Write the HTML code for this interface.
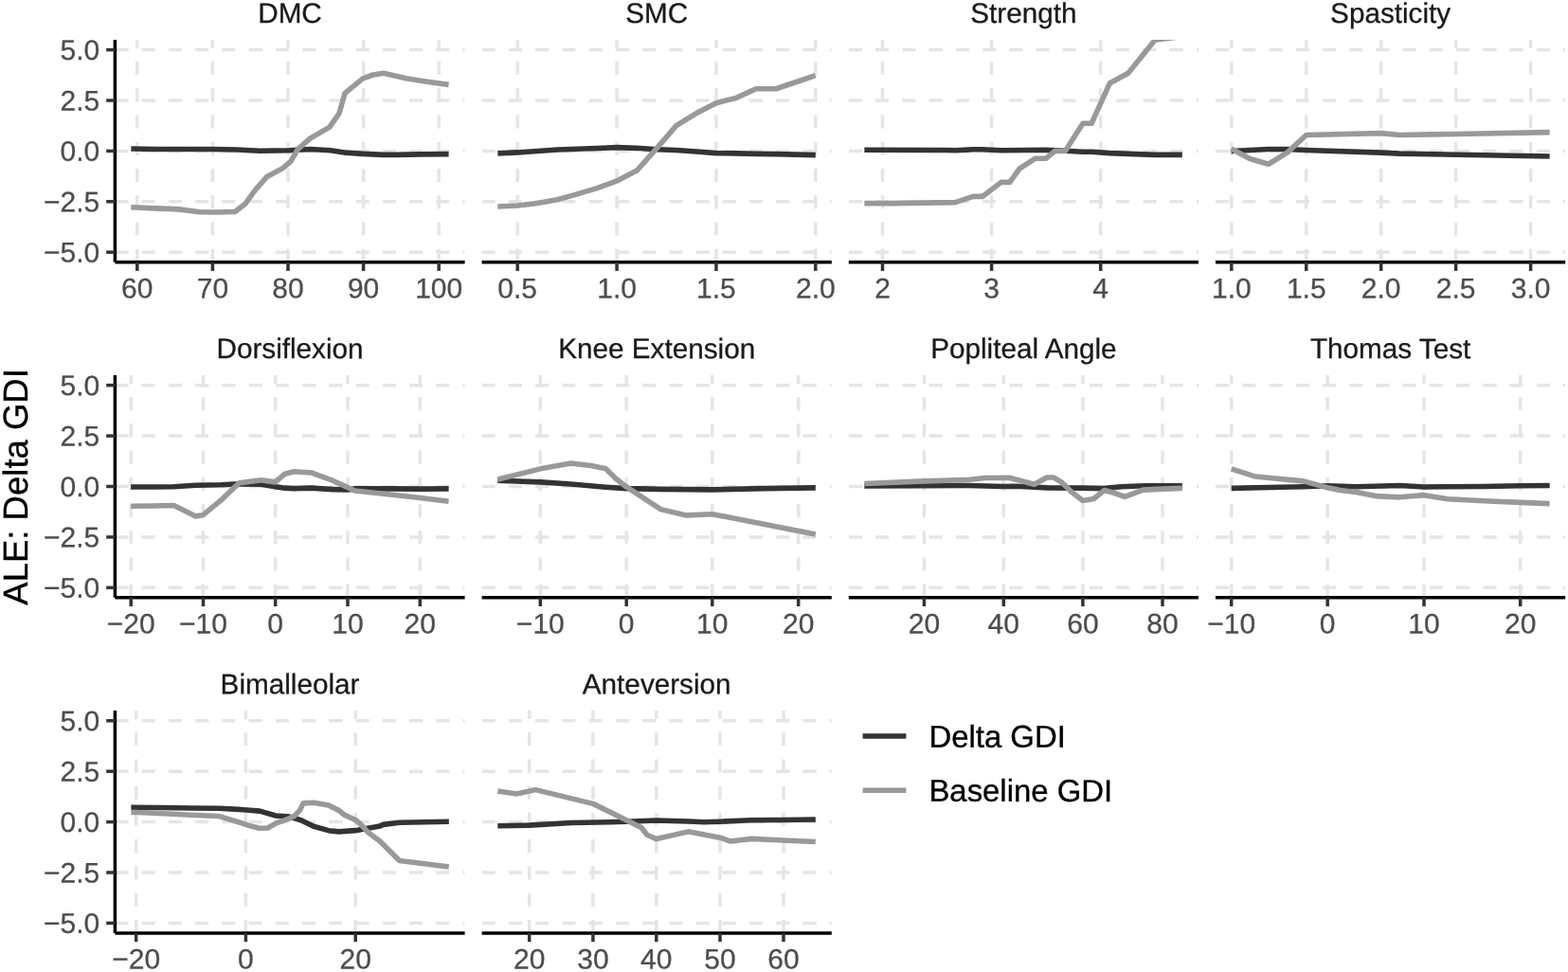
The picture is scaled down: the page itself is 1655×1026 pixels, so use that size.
<!DOCTYPE html>
<html lang="en"><head><meta charset="utf-8"><title>ALE: Delta GDI</title>
<style>html,body{margin:0;padding:0;background:#fff;overflow:hidden}svg{display:block}text{text-rendering:geometricPrecision;font-family:"Liberation Sans",sans-serif}.ax{font-size:30px;fill:#4d4d4d;stroke:#4d4d4d;stroke-width:.3px}.st{font-size:29.7px;fill:#1a1a1a;stroke:#1a1a1a;stroke-width:.3px}.lg{font-size:32.9px;fill:#000;stroke:#000;stroke-width:.35px}.yl{font-size:36.5px;fill:#000;stroke:#000;stroke-width:.35px}.g{stroke:#e5e5e5;stroke-width:3.5;stroke-dasharray:14.12 14.12;fill:none}.a{stroke:#000;stroke-width:3.5;fill:none}.t{stroke:#333;stroke-width:3.5;fill:none}.d{stroke:#333333;stroke-width:5.6;fill:none;stroke-linejoin:round;stroke-linecap:butt}.b{stroke:#999999;stroke-width:5.6;fill:none;stroke-linejoin:round;stroke-linecap:butt}</style></head><body>
<svg width="1655" height="1026" viewBox="0 0 1655 1026">
<rect width="1655" height="1026" fill="#fff"/>
<defs>
<clipPath id="c0"><rect x="121.4" y="41.9" width="369.2" height="234.85"/></clipPath>
<clipPath id="c1"><rect x="508.6" y="41.9" width="369.2" height="234.85"/></clipPath>
<clipPath id="c2"><rect x="895.8" y="41.9" width="369.2" height="234.85"/></clipPath>
<clipPath id="c3"><rect x="1283" y="41.9" width="369.2" height="234.85"/></clipPath>
<clipPath id="c4"><rect x="121.4" y="396" width="369.2" height="234.85"/></clipPath>
<clipPath id="c5"><rect x="508.6" y="396" width="369.2" height="234.85"/></clipPath>
<clipPath id="c6"><rect x="895.8" y="396" width="369.2" height="234.85"/></clipPath>
<clipPath id="c7"><rect x="1283" y="396" width="369.2" height="234.85"/></clipPath>
<clipPath id="c8"><rect x="121.4" y="750.1" width="369.2" height="234.85"/></clipPath>
<clipPath id="c9"><rect x="508.6" y="750.1" width="369.2" height="234.85"/></clipPath>
</defs>
<text class="yl" text-anchor="middle" transform="translate(29 513.9) rotate(-89.95)">ALE: Delta GDI</text>
<g>
<text class="st" text-anchor="middle" transform="translate(306 24) rotate(0.05)">DMC</text>
<g clip-path="url(#c0)">
<path class="g" d="M121.4 52.6H490.6"/>
<path class="g" d="M121.4 106H490.6"/>
<path class="g" d="M121.4 159.4H490.6"/>
<path class="g" d="M121.4 212.8H490.6"/>
<path class="g" d="M121.4 266.2H490.6"/>
<path class="g" d="M144.8 276.75V41.9"/>
<path class="g" d="M224.4 276.75V41.9"/>
<path class="g" d="M304 276.75V41.9"/>
<path class="g" d="M383.6 276.75V41.9"/>
<path class="g" d="M463.2 276.75V41.9"/>
<path class="d" d="M138.35 157.05L165.42 157.54L223.43 157.54L250.02 158.02L274.18 159.23L305.6 158.75L327.36 157.54L349.11 158.75L364.82 161.16L382.95 162.37L404.7 163.34L419.2 163.34L443.37 162.85L473.58 162.61"/>
<path class="b" d="M138.35 218.69L163.01 219.89L188.38 220.86L210.14 223.76L230.68 224L248.08 223.52L258.96 215.06L269.35 200.56L281.44 186.78L298.35 177.6L306.81 170.35L314.79 157.05L327.36 146.18L347.9 134.09L358.05 119.59L364.09 98.32L382.95 82.85L393.82 78.99L404.7 77.3L428.87 82.85L450.62 86.24L473.58 89.38"/>
</g>
<path class="a" d="M121.4 276.75H490.6"/>
<path class="t" d="M144.8 276.75v9.2"/>
<text class="ax" text-anchor="middle" transform="translate(144.8 314.4) rotate(0.05) scale(1 0.99)">60</text>
<path class="t" d="M224.4 276.75v9.2"/>
<text class="ax" text-anchor="middle" transform="translate(224.4 314.4) rotate(0.05) scale(1 0.99)">70</text>
<path class="t" d="M304 276.75v9.2"/>
<text class="ax" text-anchor="middle" transform="translate(304 314.4) rotate(0.05) scale(1 0.99)">80</text>
<path class="t" d="M383.6 276.75v9.2"/>
<text class="ax" text-anchor="middle" transform="translate(383.6 314.4) rotate(0.05) scale(1 0.99)">90</text>
<path class="t" d="M463.2 276.75v9.2"/>
<text class="ax" text-anchor="middle" transform="translate(463.2 314.4) rotate(0.05) scale(1 0.99)">100</text>
<path class="a" d="M121.4 41.9V276.75"/>
<path class="t" d="M121.4 52.6h-9.2"/>
<text class="ax" text-anchor="end" transform="translate(105.2 63.05) rotate(0.05) scale(1 0.99)">5.0</text>
<path class="t" d="M121.4 106h-9.2"/>
<text class="ax" text-anchor="end" transform="translate(105.2 116.45) rotate(0.05) scale(1 0.99)">2.5</text>
<path class="t" d="M121.4 159.4h-9.2"/>
<text class="ax" text-anchor="end" transform="translate(105.2 169.85) rotate(0.05) scale(1 0.99)">0.0</text>
<path class="t" d="M121.4 212.8h-9.2"/>
<text class="ax" text-anchor="end" transform="translate(105.2 223.25) rotate(0.05) scale(1 0.99)">−2.5</text>
<path class="t" d="M121.4 266.2h-9.2"/>
<text class="ax" text-anchor="end" transform="translate(105.2 276.65) rotate(0.05) scale(1 0.99)">−5.0</text>
</g>
<g>
<text class="st" text-anchor="middle" transform="translate(693.2 24) rotate(0.05)">SMC</text>
<g clip-path="url(#c1)">
<path class="g" d="M508.6 52.6H877.8"/>
<path class="g" d="M508.6 106H877.8"/>
<path class="g" d="M508.6 159.4H877.8"/>
<path class="g" d="M508.6 212.8H877.8"/>
<path class="g" d="M508.6 266.2H877.8"/>
<path class="g" d="M546.2 276.75V41.9"/>
<path class="g" d="M651.07 276.75V41.9"/>
<path class="g" d="M755.93 276.75V41.9"/>
<path class="g" d="M860.8 276.75V41.9"/>
<path class="d" d="M525.35 161.89L546.32 160.92L567.29 159.47L588.25 158.02L609.22 157.3L630.19 156.57L651.15 155.6L672.12 156.33L693.09 157.78L714.05 158.5L735.02 159.95L755.99 161.65L776.95 161.89L797.92 162.37L818.89 162.61L839.85 163.1L860.82 163.58"/>
<path class="b" d="M525.35 217.96L546.32 216.99L567.29 214.58L588.25 210.71L609.22 204.91L630.19 198.63L651.15 190.89L672.12 180.02L693.09 156.57L714.05 132.4L735.02 119.59L755.99 108.72L776.95 103.4L797.92 93.73L818.89 93.73L839.85 86.72L860.82 79.71"/>
</g>
<path class="a" d="M508.6 276.75H877.8"/>
<path class="t" d="M546.2 276.75v9.2"/>
<text class="ax" text-anchor="middle" transform="translate(546.2 314.4) rotate(0.05) scale(1 0.99)">0.5</text>
<path class="t" d="M651.07 276.75v9.2"/>
<text class="ax" text-anchor="middle" transform="translate(651.07 314.4) rotate(0.05) scale(1 0.99)">1.0</text>
<path class="t" d="M755.93 276.75v9.2"/>
<text class="ax" text-anchor="middle" transform="translate(755.93 314.4) rotate(0.05) scale(1 0.99)">1.5</text>
<path class="t" d="M860.8 276.75v9.2"/>
<text class="ax" text-anchor="middle" transform="translate(860.8 314.4) rotate(0.05) scale(1 0.99)">2.0</text>
</g>
<g>
<text class="st" text-anchor="middle" transform="translate(1080.4 24) rotate(0.05)">Strength</text>
<g clip-path="url(#c2)">
<path class="g" d="M895.8 52.6H1265"/>
<path class="g" d="M895.8 106H1265"/>
<path class="g" d="M895.8 159.4H1265"/>
<path class="g" d="M895.8 212.8H1265"/>
<path class="g" d="M895.8 266.2H1265"/>
<path class="g" d="M931.5 276.75V41.9"/>
<path class="g" d="M1046.6 276.75V41.9"/>
<path class="g" d="M1161.7 276.75V41.9"/>
<path class="d" d="M912.35 158.26L997.43 158.5L1008.31 158.75L1027.16 157.78L1037.31 157.78L1056.64 158.75L1104.26 158.26L1124.32 159.23L1142.93 160.2L1152.11 160.2L1171.45 161.65L1190.78 162.37L1218.58 163.34L1247.82 163.34"/>
<path class="b" d="M912.35 214.58L941.84 214.58L975.68 214.09L997.43 213.85L1008.31 213.61L1027.16 207.33L1037.31 207.33L1056.64 192.34L1065.83 192.34L1075.98 178.08L1092.9 167.21L1104.26 167.21L1113.44 159.47L1124.32 159.47L1142.93 130.23L1152.11 130.23L1171.45 87.69L1190.78 77.3L1219.06 42.25L1247.82 38.38"/>
</g>
<path class="a" d="M895.8 276.75H1265"/>
<path class="t" d="M931.5 276.75v9.2"/>
<text class="ax" text-anchor="middle" transform="translate(931.5 314.4) rotate(0.05) scale(1 0.99)">2</text>
<path class="t" d="M1046.6 276.75v9.2"/>
<text class="ax" text-anchor="middle" transform="translate(1046.6 314.4) rotate(0.05) scale(1 0.99)">3</text>
<path class="t" d="M1161.7 276.75v9.2"/>
<text class="ax" text-anchor="middle" transform="translate(1161.7 314.4) rotate(0.05) scale(1 0.99)">4</text>
</g>
<g>
<text class="st" text-anchor="middle" transform="translate(1467.6 24) rotate(0.05)">Spasticity</text>
<g clip-path="url(#c3)">
<path class="g" d="M1283 52.6H1652.2"/>
<path class="g" d="M1283 106H1652.2"/>
<path class="g" d="M1283 159.4H1652.2"/>
<path class="g" d="M1283 212.8H1652.2"/>
<path class="g" d="M1283 266.2H1652.2"/>
<path class="g" d="M1299.8 276.75V41.9"/>
<path class="g" d="M1378.75 276.75V41.9"/>
<path class="g" d="M1457.7 276.75V41.9"/>
<path class="g" d="M1536.65 276.75V41.9"/>
<path class="g" d="M1615.6 276.75V41.9"/>
<path class="d" d="M1299.71 159.47L1338.87 157.54L1358.93 157.54L1378.75 158.5L1457.54 161.16L1477.36 162.13L1635.66 165.03"/>
<path class="b" d="M1299.71 157.05L1319.05 167.45L1338.87 173.25L1358.93 160.92L1378.75 142.55L1457.54 140.62L1477.36 142.55L1635.66 139.65"/>
</g>
<path class="a" d="M1283 276.75H1652.2"/>
<path class="t" d="M1299.8 276.75v9.2"/>
<text class="ax" text-anchor="middle" transform="translate(1299.8 314.4) rotate(0.05) scale(1 0.99)">1.0</text>
<path class="t" d="M1378.75 276.75v9.2"/>
<text class="ax" text-anchor="middle" transform="translate(1378.75 314.4) rotate(0.05) scale(1 0.99)">1.5</text>
<path class="t" d="M1457.7 276.75v9.2"/>
<text class="ax" text-anchor="middle" transform="translate(1457.7 314.4) rotate(0.05) scale(1 0.99)">2.0</text>
<path class="t" d="M1536.65 276.75v9.2"/>
<text class="ax" text-anchor="middle" transform="translate(1536.65 314.4) rotate(0.05) scale(1 0.99)">2.5</text>
<path class="t" d="M1615.6 276.75v9.2"/>
<text class="ax" text-anchor="middle" transform="translate(1615.6 314.4) rotate(0.05) scale(1 0.99)">3.0</text>
</g>
<g>
<text class="st" text-anchor="middle" transform="translate(306 378.1) rotate(0.05)">Dorsiflexion</text>
<g clip-path="url(#c4)">
<path class="g" d="M121.4 406.7H490.6"/>
<path class="g" d="M121.4 460.1H490.6"/>
<path class="g" d="M121.4 513.5H490.6"/>
<path class="g" d="M121.4 566.9H490.6"/>
<path class="g" d="M121.4 620.3H490.6"/>
<path class="g" d="M138.2 630.85V396"/>
<path class="g" d="M214.5 630.85V396"/>
<path class="g" d="M290.7 630.85V396"/>
<path class="g" d="M367 630.85V396"/>
<path class="g" d="M443.3 630.85V396"/>
<path class="d" d="M138.11 513.95L160.59 513.95L183.55 513.71L206.51 512.26L233.1 511.78L252.43 510.81L275.39 511.3L290.62 513.71L300.77 515.16L310.44 515.65L328.56 515.16L351.53 516.61L366.75 516.85L374.49 515.89L411.95 515.89L443.37 516.13L473.58 515.89"/>
<path class="b" d="M138.11 534.26L160.59 534.02L183.55 533.53L206.51 544.89L214.24 543.68L233.1 528.21L245.91 515.89L252.43 509.85L275.39 506.7L290.62 508.88L300.77 500.18L310.44 497.76L328.56 498.97L351.53 507.43L374.49 518.06L411.95 521.93L443.37 525.56L473.58 529.18"/>
</g>
<path class="a" d="M121.4 630.85H490.6"/>
<path class="t" d="M138.2 630.85v9.2"/>
<text class="ax" text-anchor="middle" transform="translate(138.2 668.5) rotate(0.05) scale(1 0.99)">−20</text>
<path class="t" d="M214.5 630.85v9.2"/>
<text class="ax" text-anchor="middle" transform="translate(214.5 668.5) rotate(0.05) scale(1 0.99)">−10</text>
<path class="t" d="M290.7 630.85v9.2"/>
<text class="ax" text-anchor="middle" transform="translate(290.7 668.5) rotate(0.05) scale(1 0.99)">0</text>
<path class="t" d="M367 630.85v9.2"/>
<text class="ax" text-anchor="middle" transform="translate(367 668.5) rotate(0.05) scale(1 0.99)">10</text>
<path class="t" d="M443.3 630.85v9.2"/>
<text class="ax" text-anchor="middle" transform="translate(443.3 668.5) rotate(0.05) scale(1 0.99)">20</text>
<path class="a" d="M121.4 396V630.85"/>
<path class="t" d="M121.4 406.7h-9.2"/>
<text class="ax" text-anchor="end" transform="translate(105.2 417.15) rotate(0.05) scale(1 0.99)">5.0</text>
<path class="t" d="M121.4 460.1h-9.2"/>
<text class="ax" text-anchor="end" transform="translate(105.2 470.55) rotate(0.05) scale(1 0.99)">2.5</text>
<path class="t" d="M121.4 513.5h-9.2"/>
<text class="ax" text-anchor="end" transform="translate(105.2 523.95) rotate(0.05) scale(1 0.99)">0.0</text>
<path class="t" d="M121.4 566.9h-9.2"/>
<text class="ax" text-anchor="end" transform="translate(105.2 577.35) rotate(0.05) scale(1 0.99)">−2.5</text>
<path class="t" d="M121.4 620.3h-9.2"/>
<text class="ax" text-anchor="end" transform="translate(105.2 630.75) rotate(0.05) scale(1 0.99)">−5.0</text>
</g>
<g>
<text class="st" text-anchor="middle" transform="translate(693.2 378.1) rotate(0.05)">Knee Extension</text>
<g clip-path="url(#c5)">
<path class="g" d="M508.6 406.7H877.8"/>
<path class="g" d="M508.6 460.1H877.8"/>
<path class="g" d="M508.6 513.5H877.8"/>
<path class="g" d="M508.6 566.9H877.8"/>
<path class="g" d="M508.6 620.3H877.8"/>
<path class="g" d="M570.3 630.85V396"/>
<path class="g" d="M661.2 630.85V396"/>
<path class="g" d="M751.8 630.85V396"/>
<path class="g" d="M842.7 630.85V396"/>
<path class="d" d="M525.35 507.19L570.55 508.88L602.45 511.05L639.43 514.2L661.18 515.65L697.44 516.37L751.82 516.85L806.2 515.65L860.82 514.92"/>
<path class="b" d="M525.35 505.98L570.55 494.86L602.45 489.06L623.72 491.48L639.43 494.86L650.31 505.5L661.18 513.95L697.44 537.64L724.51 543.92L751.82 542.72L860.82 563.98"/>
</g>
<path class="a" d="M508.6 630.85H877.8"/>
<path class="t" d="M570.3 630.85v9.2"/>
<text class="ax" text-anchor="middle" transform="translate(570.3 668.5) rotate(0.05) scale(1 0.99)">−10</text>
<path class="t" d="M661.2 630.85v9.2"/>
<text class="ax" text-anchor="middle" transform="translate(661.2 668.5) rotate(0.05) scale(1 0.99)">0</text>
<path class="t" d="M751.8 630.85v9.2"/>
<text class="ax" text-anchor="middle" transform="translate(751.8 668.5) rotate(0.05) scale(1 0.99)">10</text>
<path class="t" d="M842.7 630.85v9.2"/>
<text class="ax" text-anchor="middle" transform="translate(842.7 668.5) rotate(0.05) scale(1 0.99)">20</text>
</g>
<g>
<text class="st" text-anchor="middle" transform="translate(1080.4 378.1) rotate(0.05)">Popliteal Angle</text>
<g clip-path="url(#c6)">
<path class="g" d="M895.8 406.7H1265"/>
<path class="g" d="M895.8 460.1H1265"/>
<path class="g" d="M895.8 513.5H1265"/>
<path class="g" d="M895.8 566.9H1265"/>
<path class="g" d="M895.8 620.3H1265"/>
<path class="g" d="M975.4 630.85V396"/>
<path class="g" d="M1059.3 630.85V396"/>
<path class="g" d="M1142.9 630.85V396"/>
<path class="g" d="M1227 630.85V396"/>
<path class="d" d="M912.35 512.99L975.68 512.75L1021.6 512.5L1059.3 513.47L1072.35 513.23L1091.69 514.2L1104.98 514.92L1142.93 515.16L1164.2 515.65L1183.53 513.71L1207.7 512.75L1247.82 512.75"/>
<path class="b" d="M912.35 510.57L975.68 507.91L1021.6 506.46L1039.73 504.53L1065.1 504.29L1091.69 511.3L1104.98 504.05L1112.23 504.05L1120.69 509.12L1130.36 518.79L1142.93 528.46L1154.53 526.52L1165.4 517.58L1175.07 520L1187.16 524.35L1206.49 517.1L1227.04 516.13L1247.82 515.4"/>
</g>
<path class="a" d="M895.8 630.85H1265"/>
<path class="t" d="M975.4 630.85v9.2"/>
<text class="ax" text-anchor="middle" transform="translate(975.4 668.5) rotate(0.05) scale(1 0.99)">20</text>
<path class="t" d="M1059.3 630.85v9.2"/>
<text class="ax" text-anchor="middle" transform="translate(1059.3 668.5) rotate(0.05) scale(1 0.99)">40</text>
<path class="t" d="M1142.9 630.85v9.2"/>
<text class="ax" text-anchor="middle" transform="translate(1142.9 668.5) rotate(0.05) scale(1 0.99)">60</text>
<path class="t" d="M1227 630.85v9.2"/>
<text class="ax" text-anchor="middle" transform="translate(1227 668.5) rotate(0.05) scale(1 0.99)">80</text>
</g>
<g>
<text class="st" text-anchor="middle" transform="translate(1467.6 378.1) rotate(0.05)">Thomas Test</text>
<g clip-path="url(#c7)">
<path class="g" d="M1283 406.7H1652.2"/>
<path class="g" d="M1283 460.1H1652.2"/>
<path class="g" d="M1283 513.5H1652.2"/>
<path class="g" d="M1283 566.9H1652.2"/>
<path class="g" d="M1283 620.3H1652.2"/>
<path class="g" d="M1299.7 630.85V396"/>
<path class="g" d="M1401.2 630.85V396"/>
<path class="g" d="M1503 630.85V396"/>
<path class="g" d="M1604.7 630.85V396"/>
<path class="d" d="M1299.71 515.4L1351.68 514.2L1375.85 513.71L1401.22 512.75L1431.44 513.71L1477.36 512.5L1502.98 513.95L1528.11 513.71L1566.78 513.47L1604.73 512.75L1635.66 512.5"/>
<path class="b" d="M1299.71 494.86L1325.09 503.08L1375.85 507.91L1401.22 514.68L1414.52 517.58L1431.44 519.51L1451.98 523.62L1477.36 524.83L1502.98 522.66L1528.11 526.76L1566.78 528.7L1604.73 530.39L1635.66 531.6"/>
</g>
<path class="a" d="M1283 630.85H1652.2"/>
<path class="t" d="M1299.7 630.85v9.2"/>
<text class="ax" text-anchor="middle" transform="translate(1299.7 668.5) rotate(0.05) scale(1 0.99)">−10</text>
<path class="t" d="M1401.2 630.85v9.2"/>
<text class="ax" text-anchor="middle" transform="translate(1401.2 668.5) rotate(0.05) scale(1 0.99)">0</text>
<path class="t" d="M1503 630.85v9.2"/>
<text class="ax" text-anchor="middle" transform="translate(1503 668.5) rotate(0.05) scale(1 0.99)">10</text>
<path class="t" d="M1604.7 630.85v9.2"/>
<text class="ax" text-anchor="middle" transform="translate(1604.7 668.5) rotate(0.05) scale(1 0.99)">20</text>
</g>
<g>
<text class="st" text-anchor="middle" transform="translate(306 732.2) rotate(0.05)">Bimalleolar</text>
<g clip-path="url(#c8)">
<path class="g" d="M121.4 760.8H490.6"/>
<path class="g" d="M121.4 814.2H490.6"/>
<path class="g" d="M121.4 867.6H490.6"/>
<path class="g" d="M121.4 921H490.6"/>
<path class="g" d="M121.4 974.4H490.6"/>
<path class="g" d="M143.7 984.95V750.1"/>
<path class="g" d="M259.4 984.95V750.1"/>
<path class="g" d="M375.2 984.95V750.1"/>
<path class="d" d="M138.35 852.24L167.84 852.49L201.68 852.97L230.68 853.21L252.43 854.42L274.18 856.11L291.1 860.95L305.6 862.15L317.69 865.78L330.98 872.31L346.69 876.66L357.57 877.86L375.21 876.66L385.36 874.72L399.86 872.31L404.7 870.37L421.62 868.2L448.2 867.71L473.82 867.23"/>
<path class="b" d="M138.35 857.32L167.84 858.53L201.68 860.22L230.68 861.43L252.43 867.95L265.73 872.31L274.18 874.24L282.64 874L291.1 869.16L305.6 863.85L310.44 861.43L316.48 855.39L320.11 847.89L330.98 847.17L346.69 850.07L357.57 855.39L363.61 860.22L375.21 865.54L380.53 869.89L388.99 879.07L401.07 888.02L421.62 908.56L448.2 911.7L473.82 915.08"/>
</g>
<path class="a" d="M121.4 984.95H490.6"/>
<path class="t" d="M143.7 984.95v9.2"/>
<text class="ax" text-anchor="middle" transform="translate(143.7 1022.6) rotate(0.05) scale(1 0.99)">−20</text>
<path class="t" d="M259.4 984.95v9.2"/>
<text class="ax" text-anchor="middle" transform="translate(259.4 1022.6) rotate(0.05) scale(1 0.99)">0</text>
<path class="t" d="M375.2 984.95v9.2"/>
<text class="ax" text-anchor="middle" transform="translate(375.2 1022.6) rotate(0.05) scale(1 0.99)">20</text>
<path class="a" d="M121.4 750.1V984.95"/>
<path class="t" d="M121.4 760.8h-9.2"/>
<text class="ax" text-anchor="end" transform="translate(105.2 771.25) rotate(0.05) scale(1 0.99)">5.0</text>
<path class="t" d="M121.4 814.2h-9.2"/>
<text class="ax" text-anchor="end" transform="translate(105.2 824.65) rotate(0.05) scale(1 0.99)">2.5</text>
<path class="t" d="M121.4 867.6h-9.2"/>
<text class="ax" text-anchor="end" transform="translate(105.2 878.05) rotate(0.05) scale(1 0.99)">0.0</text>
<path class="t" d="M121.4 921h-9.2"/>
<text class="ax" text-anchor="end" transform="translate(105.2 931.45) rotate(0.05) scale(1 0.99)">−2.5</text>
<path class="t" d="M121.4 974.4h-9.2"/>
<text class="ax" text-anchor="end" transform="translate(105.2 984.85) rotate(0.05) scale(1 0.99)">−5.0</text>
</g>
<g>
<text class="st" text-anchor="middle" transform="translate(693.2 732.2) rotate(0.05)">Anteversion</text>
<g clip-path="url(#c9)">
<path class="g" d="M508.6 760.8H877.8"/>
<path class="g" d="M508.6 814.2H877.8"/>
<path class="g" d="M508.6 867.6H877.8"/>
<path class="g" d="M508.6 921H877.8"/>
<path class="g" d="M508.6 974.4H877.8"/>
<path class="g" d="M558.7 984.95V750.1"/>
<path class="g" d="M625.9 984.95V750.1"/>
<path class="g" d="M692.8 984.95V750.1"/>
<path class="g" d="M760 984.95V750.1"/>
<path class="g" d="M827 984.95V750.1"/>
<path class="d" d="M525.35 871.82L558.71 871.1L603.18 868.44L644.27 867.71L661.18 867.23L692.85 866.02L726.44 866.99L743.36 867.71L760.04 867.23L792.91 865.78L826.98 865.54L860.82 865.05"/>
<path class="b" d="M525.35 835.08L545.17 837.98L565.23 833.63L625.9 848.38L661.18 865.78L676.89 873.51L682.94 881.25L692.85 885.6L726.44 877.86L760.04 884.15L771.15 888.02L792.91 885.36L826.98 887.05L860.82 888.5"/>
</g>
<path class="a" d="M508.6 984.95H877.8"/>
<path class="t" d="M558.7 984.95v9.2"/>
<text class="ax" text-anchor="middle" transform="translate(558.7 1022.6) rotate(0.05) scale(1 0.99)">20</text>
<path class="t" d="M625.9 984.95v9.2"/>
<text class="ax" text-anchor="middle" transform="translate(625.9 1022.6) rotate(0.05) scale(1 0.99)">30</text>
<path class="t" d="M692.8 984.95v9.2"/>
<text class="ax" text-anchor="middle" transform="translate(692.8 1022.6) rotate(0.05) scale(1 0.99)">40</text>
<path class="t" d="M760 984.95v9.2"/>
<text class="ax" text-anchor="middle" transform="translate(760 1022.6) rotate(0.05) scale(1 0.99)">50</text>
<path class="t" d="M827 984.95v9.2"/>
<text class="ax" text-anchor="middle" transform="translate(827 1022.6) rotate(0.05) scale(1 0.99)">60</text>
</g>
<g>
<path class="d" d="M910.6 777.05H956.4"/>
<path class="b" d="M910.6 834.3H956.4"/>
<text class="lg" transform="translate(980.4 788.7) rotate(0.05)">Delta GDI</text>
<text class="lg" transform="translate(980.4 845.8) rotate(0.05)">Baseline GDI</text>
</g>
</svg></body></html>
